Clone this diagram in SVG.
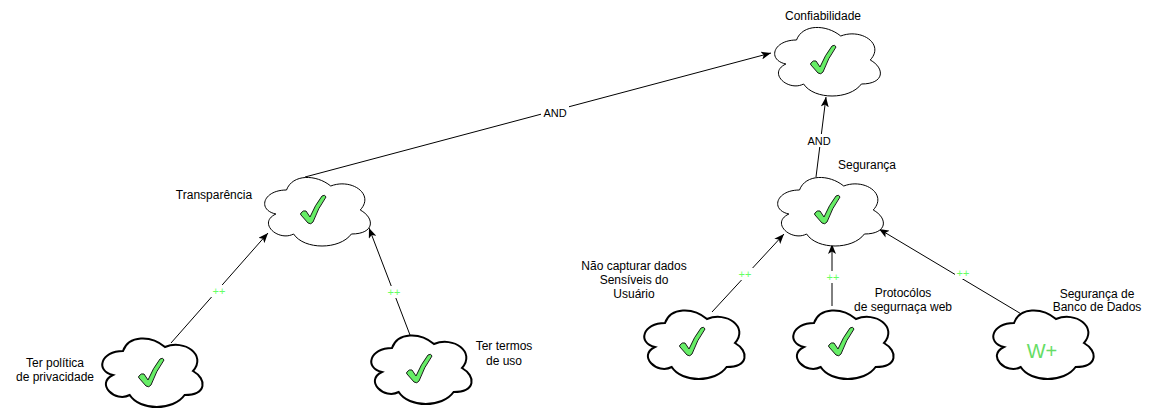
<svg xmlns="http://www.w3.org/2000/svg" width="1154" height="412" viewBox="0 0 1154 412">
<style>
text{font-family:"Liberation Sans",Arial,sans-serif;font-size:12px;fill:#000;text-anchor:middle}
.cl{fill:#fff;stroke:#000;stroke-width:1}
.clb{fill:#fff;stroke:#000;stroke-width:2}
.ck{fill:#66ee66;stroke:#1a1a1a;stroke-width:1;stroke-linejoin:round}
.e{fill:none;stroke:#000;stroke-width:1;marker-end:url(#arr)}
.lb{fill:#fff}
.and{font-size:11px}
.pp{font-size:11px;fill:#66ff66}
.wp{font-size:20px;fill:#66dd66}
</style>
<defs>
<marker id="arr" viewBox="0 0 10 8" refX="10" refY="4" markerWidth="10" markerHeight="8" markerUnits="userSpaceOnUse" orient="auto">
<path d="M0,0 L10,4 L0,8 L2.5,4 Z" fill="#000"/>
</marker>
<path id="cA" d="M29.5,20 C5.9,20 0,40 18.88,44 C0,52.8 21.24,72 36.58,64 C47.2,80 82.6,80 94.4,64 C118,64 118,48 103.25,40 C118,24 94.4,8 73.75,16 C59,4 35.4,4 29.5,20 Z"/>
<path id="cB" d="M28,20 C5.6,20 0,40 17.92,44 C0,52.8 20.16,72 34.72,64 C44.8,80 78.4,80 89.6,64 C112,64 112,48 98,40 C112,24 89.6,8 70,16 C56,4 33.6,4 28,20 Z"/>
<path id="chk" d="M-13,3 Q-11,0 -8,1 L-4,7 Q1,-5 8,-14 Q11,-16 12,-13 Q4,-2 -1,12 Q-3,15 -6,13 L-13,5 Q-14,4 -13,3 Z"/>
</defs>

<g id="connectors">
<path class="e" d="M305,177 L771,53"/>
<rect class="lb" x="541" y="106" width="28" height="13"/>
<text class="and" x="555" y="117">AND</text>

<path class="e" d="M816,177 L826,97"/>
<rect class="lb" x="806" y="134" width="26" height="13"/>
<text class="and" x="819" y="145">AND</text>

<path class="e" d="M171,343 L268,233"/>
<rect class="lb" x="211" y="285" width="16" height="12"/>
<text class="pp" x="219" y="295">++</text>

<path class="e" d="M410,335 L369,228"/>
<rect class="lb" x="386" y="286" width="16" height="12"/>
<text class="pp" x="394" y="296">++</text>

<path class="e" d="M712,312 L784,234"/>
<rect class="lb" x="737" y="268" width="16" height="12"/>
<text class="pp" x="745" y="278">++</text>

<path class="e" d="M832,306 L832,244"/>
<rect class="lb" x="825" y="271" width="16" height="12"/>
<text class="pp" x="833" y="281">++</text>

<path class="e" d="M1028,318 L879,229"/>
<rect class="lb" x="955" y="267" width="16" height="12"/>
<text class="pp" x="963" y="277">++</text>
</g>

<g id="confiabilidade">
<use href="#cA" class="cl" transform="translate(767,20)"/>
<use href="#chk" class="ck" transform="translate(824,60)"/>
<text x="823" y="20">Confiabilidade</text>
</g>

<g id="transparencia">
<use href="#cA" class="cl" transform="translate(257,170)"/>
<use href="#chk" class="ck" transform="translate(314,210)"/>
<text x="214" y="199">Transparência</text>
</g>

<g id="seguranca">
<use href="#cA" class="cl" transform="translate(770,170)"/>
<use href="#chk" class="ck" transform="translate(828,210)"/>
<text x="867" y="169">Segurança</text>
</g>

<g id="ter-politica">
<use href="#cB" class="clb" transform="translate(95,331)"/>
<use href="#chk" class="ck" transform="translate(152,373)"/>
<text x="55" y="367">Ter política</text>
<text x="55" y="381">de privacidade</text>
</g>

<g id="ter-termos">
<use href="#cB" class="clb" transform="translate(364,328)"/>
<use href="#chk" class="ck" transform="translate(420,369)"/>
<text x="504" y="350">Ter termos</text>
<text x="504" y="365">de uso</text>
</g>

<g id="nao-capturar">
<use href="#cB" class="clb" transform="translate(637,303)"/>
<use href="#chk" class="ck" transform="translate(693,342)"/>
<text x="634" y="270">Não capturar dados</text>
<text x="634" y="284">Sensíveis do</text>
<text x="634" y="298">Usuário</text>
</g>

<g id="protocolos">
<use href="#cB" class="clb" transform="translate(786,303)"/>
<use href="#chk" class="ck" transform="translate(842,342)"/>
<text x="903" y="297">Protocólos</text>
<text x="903" y="311">de segurnaça web</text>
</g>

<g id="seguranca-bd">
<use href="#cB" class="clb" transform="translate(986,303)"/>
<text class="wp" x="1042" y="358">W+</text>
<text x="1097" y="298">Segurança de</text>
<text x="1097" y="311">Banco de Dados</text>
</g>
</svg>
